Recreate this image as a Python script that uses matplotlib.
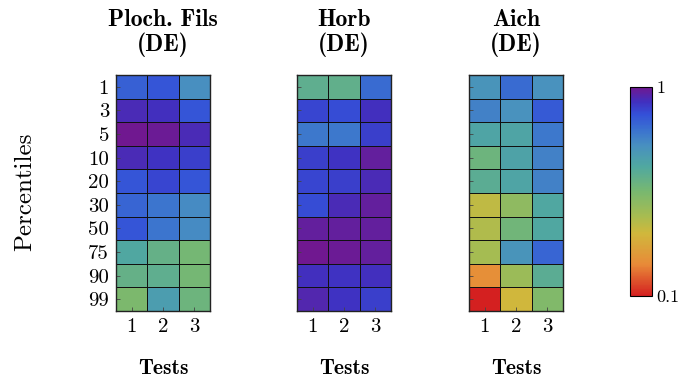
import numpy as np
import matplotlib
matplotlib.use("Agg")
import matplotlib.pyplot as plt
from matplotlib.colors import LinearSegmentedColormap, Normalize
from matplotlib.cm import ScalarMappable

plt.rcParams["axes.unicode_minus"] = False

percentiles = ["1", "3", "5", "10", "20", "30", "50", "75", "90", "99"]
tests = ["1", "2", "3"]
titles = ["Ploch. Fils\n(DE)", "Horb\n(DE)", "Aich\n(DE)"]

ploch = [
    [0.85, 0.87, 0.75],
    [0.95, 0.94, 0.87],
    [1.00, 0.99, 0.95],
    [0.95, 0.93, 0.91],
    [0.87, 0.90, 0.87],
    [0.84, 0.81, 0.76],
    [0.87, 0.81, 0.76],
    [0.66, 0.60, 0.56],
    [0.60, 0.62, 0.56],
    [0.54, 0.70, 0.58],
]
horb = [
    [0.62, 0.61, 0.83],
    [0.90, 0.89, 0.94],
    [0.80, 0.80, 0.91],
    [0.91, 0.93, 0.98],
    [0.90, 0.91, 0.95],
    [0.89, 0.95, 0.98],
    [0.98, 0.98, 0.98],
    [1.00, 0.99, 0.98],
    [0.94, 0.93, 0.94],
    [0.96, 0.93, 0.91],
]
aich = [
    [0.73, 0.83, 0.74],
    [0.78, 0.74, 0.86],
    [0.67, 0.67, 0.80],
    [0.58, 0.68, 0.78],
    [0.63, 0.67, 0.78],
    [0.40, 0.50, 0.66],
    [0.43, 0.57, 0.66],
    [0.45, 0.73, 0.84],
    [0.25, 0.47, 0.63],
    [0.10, 0.37, 0.53],
]
panels = [ploch, horb, aich]

# muted rainbow: red at the low end, purple at the top
cmap = LinearSegmentedColormap.from_list("rb", [
    (0.00, "#d42020"), (0.15, "#e88a38"), (0.30, "#d0b83c"),
    (0.38, "#a8bc50"), (0.50, "#78b870"), (0.62, "#50a8a0"),
    (0.72, "#4890c0"), (0.80, "#3a70d0"), (0.87, "#3450d8"),
    (0.93, "#4030c0"), (1.00, "#701890"),
])
norm = Normalize(vmin=0.1, vmax=1.0)

W, H = 681, 383
fig = plt.figure(figsize=(W / 100, H / 100), dpi=100)
lefts = [116, 297, 469]

for i, (left, data, title) in enumerate(zip(lefts, panels, titles)):
    ax = fig.add_axes([left / W, (H - 311) / H, 94 / W, 236 / H])
    z = np.array(data)
    ax.pcolormesh(np.arange(4), np.arange(11), z, cmap=cmap, norm=norm,
                  edgecolors="#111111", linewidth=0.7)
    ax.set_xlim(0, 3)
    ax.set_ylim(10, 0)
    ax.set_xticks(np.arange(3) + 0.5)
    ax.set_xticklabels(tests, fontfamily="cmr10", fontsize=15)
    ax.set_yticks(np.arange(10) + 0.5)
    if i == 0:
        ax.set_yticklabels(percentiles, fontfamily="cmr10", fontsize=15)
    else:
        ax.set_yticklabels([])
    ax.tick_params(direction="in", length=3, width=0.6, color="#444444", pad=5)
    for s in ax.spines.values():
        s.set_linewidth(1.0)
        s.set_color("#222222")
    cx = (left + 47) / W
    fig.text(cx, 1 - 33 / H, title, ha="center", va="center",
             fontfamily="cmb10", fontsize=17, linespacing=1.05)
    fig.text(cx, 14 / H, "Tests", ha="center", va="center",
             fontfamily="cmb10", fontsize=15.5)

fig.text(25 / W, (H - 192) / H, "Percentiles", rotation=90,
         ha="center", va="center", fontfamily="cmr10", fontsize=18)

cax = fig.add_axes([630 / W, (H - 296) / H, 22 / W, 209 / H])
cb = fig.colorbar(ScalarMappable(norm=norm, cmap=cmap), cax=cax)
cb.set_ticks([0.1, 1.0])
cb.set_ticklabels(["0.1", "1"])
cb.ax.tick_params(length=0, labelsize=13, pad=3)
for t in cb.ax.get_yticklabels():
    t.set_fontfamily("cmr10")
cb.outline.set_linewidth(0.8)

fig.savefig("out.png", dpi=100)
